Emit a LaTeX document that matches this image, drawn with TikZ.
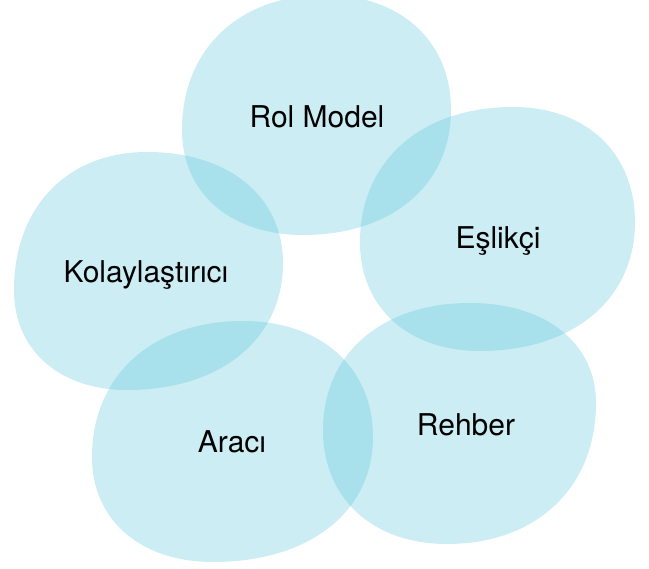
\documentclass[tikz,border=0pt]{standalone}
\usepackage{fontspec}
\setmainfont{TeX Gyre Heros}
\definecolor{blobcyan}{RGB}{96,200,218}
\tikzset{blob/.style={fill=blobcyan,fill opacity=0.33,draw=none},
  lbl/.style={anchor=base,inner sep=0pt,font=\fontsize{30}{36}\selectfont}}
% blob through left, bottom, right and top points
\newcommand\blobk{0.6}
\newcommand\blobpath[8]{(#1,#2)
  .. controls (#1,{#2+\blobk*(#4-#2)}) and ({#3-\blobk*(#3-#1)},#4) .. (#3,#4)
  .. controls ({#3+\blobk*(#5-#3)},#4) and (#5,{#6+\blobk*(#4-#6)}) .. (#5,#6)
  .. controls (#5,{#6-\blobk*(#6-#8)}) and ({#7+\blobk*(#5-#7)},#8) .. (#7,#8)
  .. controls ({#7-\blobk*(#7-#1)},#8) and (#1,{#2-\blobk*(#2-#8)}) .. cycle}

\begin{document}
\begin{tikzpicture}[x=1pt,y=-1pt]
\useasboundingbox (0,0) rectangle (649,569);
\clip (0,0) rectangle (649,569);
\fill[blob] \blobpath{182}{130}{303}{235}{451}{110}{325}{-5};
\fill[blob] \blobpath{14}{290}{127}{390}{283}{263}{147}{152};
\fill[blob] \blobpath{360}{242}{480}{351}{635}{222}{513}{107};
\fill[blob] \blobpath{323}{430}{447}{544}{596}{403}{470}{303};
\fill[blob] \blobpath{92}{457}{213}{562}{373}{437}{243}{321};
\node[lbl] (rol) at (317,128) {Rol Model};
\node[lbl] (kol) at (146,283) {Kolaylaştırıcı};
\node[lbl] (esl) at (498,249) {Eşlikçi};
\node[lbl] (ara) at (232,453) {Aracı};
\node[lbl] (reh) at (466,436) {Rehber};
\end{tikzpicture}
\end{document}
